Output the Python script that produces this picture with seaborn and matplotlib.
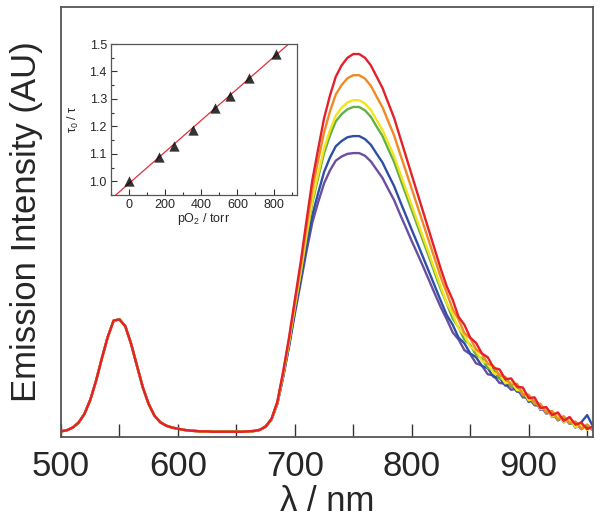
import numpy as np
import pandas as pd
import matplotlib
matplotlib.use('Agg')
import matplotlib.pyplot as plt
from matplotlib.ticker import MultipleLocator
import seaborn as sns

# Espectros (intensidade relativa, pico do vermelho = 1)
comprimento_exc = [500, 505, 510, 515, 520, 525, 530, 535, 540, 545,
                   550, 555, 560, 565, 570, 575, 580, 585, 590, 595,
                   600, 605, 610, 615, 620, 625, 630, 635, 640, 645]
banda_exc = [.002, .005, .012, .025, .048, .085, .136, .196, .252, .295,
             .298, .280, .233, .175, .118, .074, .043, .026, .017, .012,
             .009, .006, .004, .003, .002, .002, .001, .001, .001, .001]

comprimento_em = [650, 655, 660, 665, 670, 675, 680, 685, 690, 695,
                  700, 705, 710, 715, 720, 725, 730, 735, 740, 745,
                  750, 755, 760, 765, 770, 775, 780, 785, 790, 795,
                  800, 805, 810, 815, 820, 825,
                  830, 835, 840, 845, 850, 855, 860, 865, 870, 875,
                  880, 885, 890, 895, 900, 905, 910, 915, 920, 925,
                  930, 935, 940, 945, 950, 955]

em_vermelho = [.001, .001, .002, .003, .006, .015, .035, .08, .16, .25,
               .35, .45, .56, .667, .75, .83, .89, .94, .97, .99,
               1.0, 1.0, .99, .97, .94, .91, .87, .83, .78, .73,
               .68, .63, .58, .53, .48, .43,
               .385, .35, .305, .284, .25, .236, .208, .198, .17, .166,
               .14, .142, .12, .118, .09, .092, .064, .066, .045, .052,
               .03, .04, .02, .025, .008, .015]
em_laranja = [.001, .001, .002, .003, .006, .015, .035, .079, .157, .245,
              .342, .438, .543, .643, .720, .793, .848, .893, .918, .936,
              .944, .944, .935, .916, .887, .859, .821, .784, .736, .690,
              .643, .596, .549, .502, .455, .408,
              .368, .325, .298, .262, .248, .219, .207, .181, .175, .150,
              .146, .125, .128, .100, .099, .076, .075, .052, .056, .034,
              .042, .024, .028, .010, .020, .006]
em_amarelo = [.001, .001, .002, .003, .006, .015, .034, .077, .153, .238,
              .333, .424, .522, .615, .684, .750, .798, .837, .858, .872,
              .878, .878, .869, .852, .825, .799, .764, .729, .685, .642,
              .599, .556, .513, .470, .426, .383,
              .341, .312, .274, .257, .226, .215, .188, .182, .156, .153,
              .129, .133, .111, .110, .084, .089, .061, .065, .041, .047,
              .027, .037, .013, .022, .006, .016]
em_verde = [.001, .001, .002, .003, .006, .015, .034, .077, .152, .237,
            .330, .420, .517, .607, .674, .738, .784, .822, .841, .854,
            .860, .860, .851, .834, .808, .783, .748, .714, .671, .629,
            .587, .545, .503, .461, .418, .376,
            .340, .300, .277, .244, .231, .204, .195, .169, .165, .141,
            .139, .120, .123, .097, .096, .074, .073, .051, .056, .032,
            .041, .022, .027, .008, .019, .004]
em_azul = [.001, .001, .002, .003, .006, .014, .033, .075, .148, .229,
           .320, .404, .493, .574, .633, .688, .726, .756, .770, .780,
           .783, .783, .775, .760, .736, .713, .681, .650, .611, .573,
           .535, .498, .460, .422, .384, .346,
           .309, .284, .250, .235, .208, .198, .175, .169, .146, .144,
           .123, .126, .107, .107, .080, .086, .059, .065, .040, .048,
           .026, .038, .012, .026, .045, .015]
em_roxo = [.001, .001, .002, .003, .006, .014, .033, .074, .145, .225,
           .313, .395, .479, .555, .609, .658, .692, .718, .729, .736,
           .738, .738, .731, .716, .694, .672, .642, .613, .576, .541,
           .505, .471, .436, .400, .364, .329,
           .298, .264, .245, .217, .206, .182, .176, .153, .150, .130,
           .128, .112, .115, .092, .091, .071, .070, .049, .053, .031,
           .040, .022, .026, .008, .018, .005]

# ordem de desenho: roxo embaixo, vermelho por cima
nomes = ['roxo', 'azul', 'verde', 'amarelo', 'laranja', 'vermelho']
emissoes = [em_roxo, em_azul, em_verde, em_amarelo, em_laranja, em_vermelho]
cores = {'roxo': '#6a4fa0', 'azul': '#2d4fa6', 'verde': '#62b046',
         'amarelo': '#f2e51d', 'laranja': '#f28a22', 'vermelho': '#e3202b'}

# Stern-Volmer (inset)
po2 = [0, 168, 247, 352, 478, 557, 665, 811]
tau_ratio = [1.0, 1.09, 1.13, 1.185, 1.268, 1.31, 1.375, 1.464]

linhas = []
for nome, em in zip(nomes, emissoes):
    for wl, val in zip(comprimento_exc + comprimento_em, banda_exc + em):
        linhas.append({'curva': nome, 'lambda': wl, 'intensidade': val})
df = pd.DataFrame(linhas)
df_sv = pd.DataFrame({'pO2': po2, 'razao': tau_ratio})

sns.set_style('ticks')
plt.rcParams['font.family'] = ['Liberation Sans', 'DejaVu Sans']
plt.rcParams['mathtext.default'] = 'regular'

fig = plt.figure(figsize=(6.0, 5.21), dpi=100)
ax = fig.add_axes([0.1017, 0.161, 0.8866, 0.826])

sns.lineplot(data=df, x='lambda', y='intensidade', hue='curva',
             hue_order=nomes, palette=cores, sort=False, estimator=None,
             linewidth=1.7, legend=False, ax=ax)

ax.set_xlim(500, 955)
ax.set_ylim(-0.0132, 1.125)
ax.set_yticks([])
ax.xaxis.set_major_locator(MultipleLocator(100))
ax.xaxis.set_minor_locator(MultipleLocator(50))
ax.tick_params(axis='x', which='both', direction='in', length=9.5,
               width=1.0, color='#333333', labelsize=25, pad=9)
ax.set_xlabel('λ / nm', fontsize=25, labelpad=2)
ax.set_ylabel('Emission Intensity (AU)', fontsize=25, labelpad=13)
for sp in ax.spines.values():
    sp.set_color('#555555')
    sp.set_linewidth(1.3)

# inset
axi = fig.add_axes([0.185, 0.6257, 0.31, 0.2898])
axi.set_xlim(-100, 930)
axi.set_ylim(0.95, 1.5)
sns.regplot(data=df_sv, x='pO2', y='razao', ci=None, truncate=False,
            marker='^', color='black',
            scatter_kws={'s': 55, 'zorder': 3, 'linewidths': 0},
            line_kws={'color': '#e0303a', 'linewidth': 0.9, 'zorder': 2},
            ax=axi)
axi.set_xlim(-100, 930)
axi.set_ylim(0.95, 1.5)
axi.xaxis.set_major_locator(MultipleLocator(200))
axi.xaxis.set_minor_locator(MultipleLocator(100))
axi.yaxis.set_major_locator(MultipleLocator(0.1))
axi.yaxis.set_minor_locator(MultipleLocator(0.05))
axi.tick_params(which='both', direction='in', color='#333333',
                labelsize=9, pad=3)
axi.tick_params(which='major', length=4, width=0.8)
axi.tick_params(which='minor', length=2.5, width=0.8)
axi.set_xlabel('pO$_2$ / torr', fontsize=9, labelpad=0)
axi.set_ylabel('τ$_0$ / τ', fontsize=9, labelpad=6)
for sp in axi.spines.values():
    sp.set_color('#555555')
    sp.set_linewidth(0.9)

fig.savefig('out.png', dpi=100)
